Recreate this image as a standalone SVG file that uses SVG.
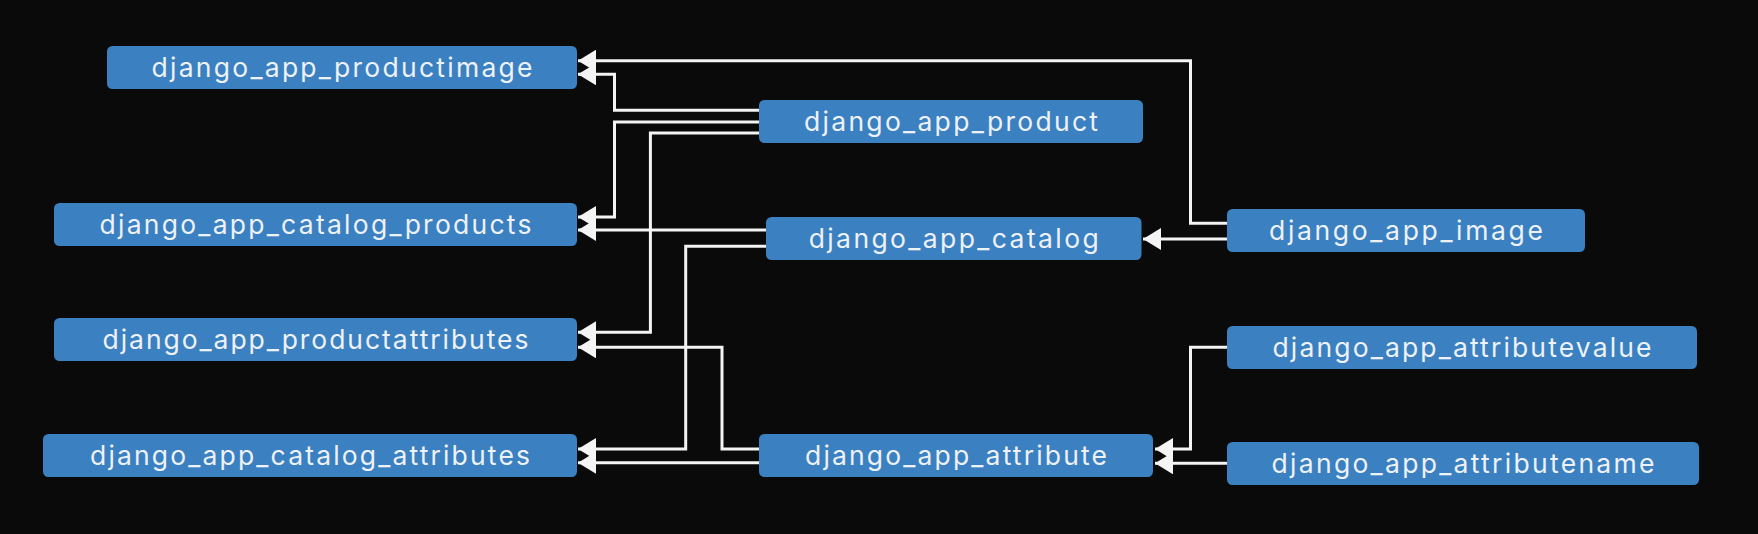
<svg xmlns="http://www.w3.org/2000/svg" width="1758" height="534" viewBox="0 0 1758 534">
<defs>
<style>
.node rect { fill: #3b80c1; }
.node text { fill: #eef2f6; font-family: Inter, "Noto Sans", "Liberation Sans", sans-serif; font-size: 26.5px; text-anchor: middle; }
.edge { fill: none; stroke: #f4f4f4; stroke-width: 3; marker-end: url(#arrow); }
</style>
<marker id="arrow" viewBox="0 0 18 22" refX="18" refY="11" markerWidth="18" markerHeight="22" markerUnits="userSpaceOnUse" orient="auto">
<path d="M0,0 L18,11 L0,22 z" fill="#f4f4f4"/>
</marker>
</defs>
<rect x="0" y="0" width="1758" height="534" fill="#0a0a0a"/>
<g id="connectors">
<path class="edge" d="M1227,223.3 H1190.5 V60.7 H578"/>
<path class="edge" d="M1227,239 H1143"/>
<path class="edge" d="M759,110.3 H614.5 V74.3 H578"/>
<path class="edge" d="M759,122 H614.5 V217 H578"/>
<path class="edge" d="M759,133 H650.4 V332.3 H578"/>
<path class="edge" d="M766,230 H578"/>
<path class="edge" d="M766,246.3 H685.7 V449 H578"/>
<path class="edge" d="M759,449 H722 V347.3 H578"/>
<path class="edge" d="M759,462.7 H578"/>
<path class="edge" d="M1227,347.3 H1190.5 V449 H1155"/>
<path class="edge" d="M1227,463.3 H1155"/>
</g>
<g id="productimage" class="node"><rect x="107" y="46" width="470" height="43" rx="5.5"/><text x="342" y="77" textLength="381" lengthAdjust="spacing">django_app_productimage</text></g>
<g id="product" class="node"><rect x="759" y="100" width="384" height="43" rx="5.5"/><text x="951" y="131" textLength="294" lengthAdjust="spacing">django_app_product</text></g>
<g id="catalog_products" class="node"><rect x="54" y="203" width="523" height="43" rx="5.5"/><text x="315.5" y="234" textLength="432" lengthAdjust="spacing">django_app_catalog_products</text></g>
<g id="catalog" class="node"><rect x="766" y="217" width="375.5" height="43" rx="5.5"/><text x="953.7" y="248" textLength="290" lengthAdjust="spacing">django_app_catalog</text></g>
<g id="image" class="node"><rect x="1227" y="209" width="358" height="43" rx="5.5"/><text x="1406" y="240" textLength="274" lengthAdjust="spacing">django_app_image</text></g>
<g id="productattributes" class="node"><rect x="54" y="318" width="523" height="43" rx="5.5"/><text x="315.5" y="349" textLength="426" lengthAdjust="spacing">django_app_productattributes</text></g>
<g id="catalog_attributes" class="node"><rect x="43" y="434" width="534" height="43" rx="5.5"/><text x="310" y="465" textLength="440" lengthAdjust="spacing">django_app_catalog_attributes</text></g>
<g id="attribute" class="node"><rect x="759" y="434" width="394" height="43" rx="5.5"/><text x="956" y="465" textLength="302" lengthAdjust="spacing">django_app_attribute</text></g>
<g id="attributevalue" class="node"><rect x="1227" y="326" width="470" height="43" rx="5.5"/><text x="1462" y="357" textLength="379" lengthAdjust="spacing">django_app_attributevalue</text></g>
<g id="attributename" class="node"><rect x="1227" y="442" width="472" height="43" rx="5.5"/><text x="1463" y="473" textLength="383" lengthAdjust="spacing">django_app_attributename</text></g>
</svg>
